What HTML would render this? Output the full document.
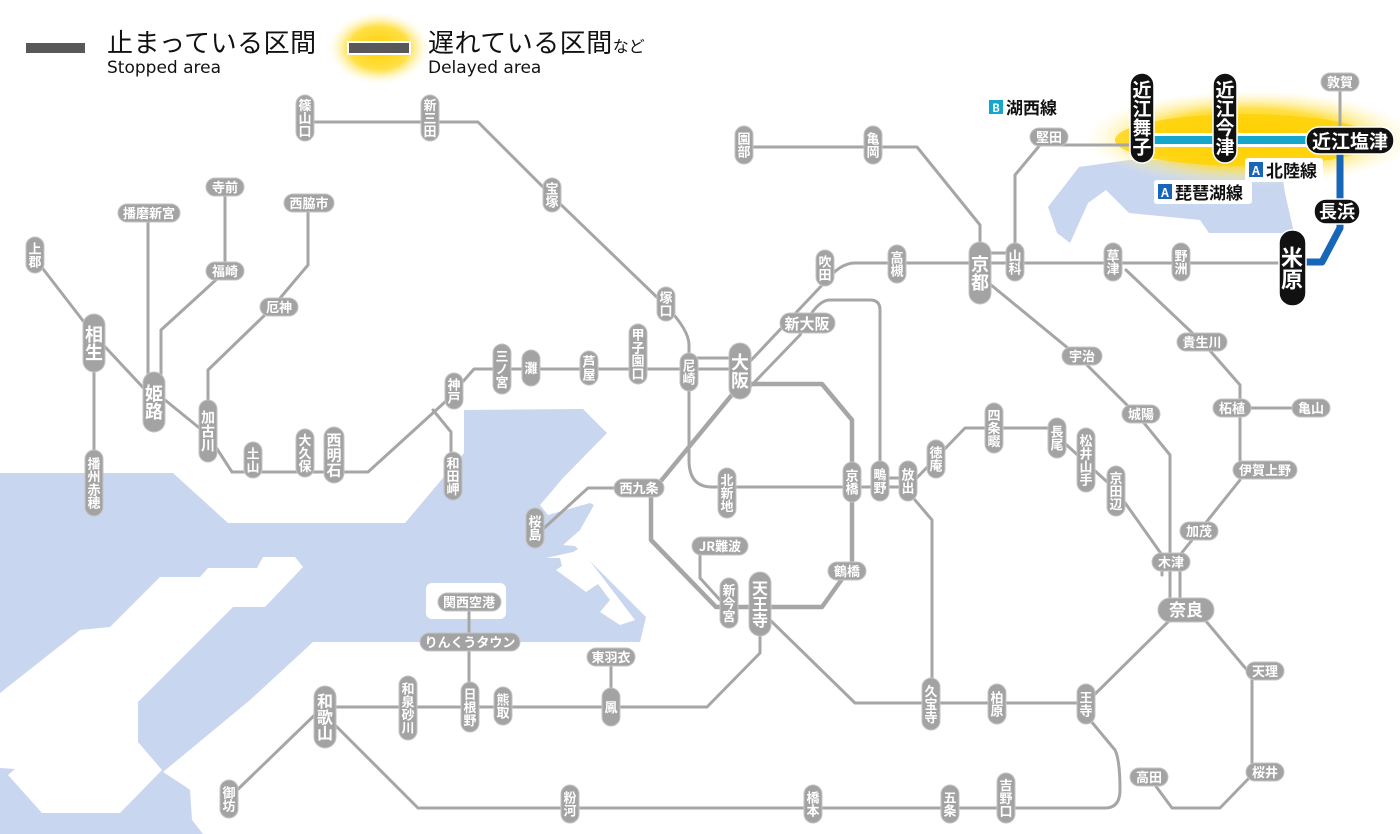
<!DOCTYPE html>
<html><head><meta charset="utf-8">
<style>
html,body{margin:0;padding:0;background:#fff;}
svg{display:block;}
.ln{fill:none;stroke:#a6a6a6;stroke-width:3;stroke-linejoin:round;stroke-linecap:round;}
.st rect{fill:#a3a3a3;stroke:#c4c4c4;stroke-width:1;}
.st text{fill:#fff;font-family:"Noto Sans CJK JP","WenQuanYi Zen Hei",sans-serif;font-weight:bold;}
.v{writing-mode:vertical-rl;text-orientation:upright;}
.bk rect{fill:#111;stroke:#fff;stroke-width:1.5;}
.bk text{fill:#fff;font-family:"Noto Sans CJK JP",sans-serif;font-weight:bold;}
</style></head><body>
<svg width="1400" height="834" viewBox="0 0 1400 834" xmlns="http://www.w3.org/2000/svg">
<defs>
<radialGradient id="glow" cx="50%" cy="50%" r="50%">
<stop offset="0" stop-color="#ffd000"/><stop offset="0.6" stop-color="#ffdc30" stop-opacity="0.9"/><stop offset="1" stop-color="#fff6c0" stop-opacity="0"/>
</radialGradient>
</defs>
<!-- water -->
<polygon fill="#c9d6ef" points="0,473 173,473 228,523 405,523 464,453 464,410 583,409 607,433 563,478 540,505 548,515 590,503 594,505 580,530 563,545 575,546 646,617 640,642 313,642 250,700 163,772 183,785 190,790 192,820 203,834 0,834"/>
<polygon fill="#fff" points="0,693 80,630 110,627 160,577 200,577 208,568 257,568 263,557 295,557 303,567 265,607 233,607 138,702 138,742 162,770 120,813 42,813 8,775 15,769 0,768"/>
<rect x="426" y="583" width="80" height="36" rx="6" fill="#fff"/>
<polygon fill="#fff" points="546,558 560,558 562,566 556,570 586,592 598,584 610,600 600,612 620,625 635,620 580,548 573,552"/>
<!-- lake -->
<path fill="#c9d6ef" d="M1048,207 L1079,167 L1129,160 L1280,160 L1285,193 L1294,233 L1209,233 L1200,220 L1129,213 L1106,190 L1088,203 L1070,243 L1057,233 Z"/>
<!-- glow -->
<ellipse cx="1250" cy="138" rx="165" ry="48" fill="url(#glow)"/>
<ellipse cx="1245" cy="140" rx="130" ry="26" fill="#ffd000" opacity="0.75"/>
<!-- legend -->
<rect x="26" y="43" width="59" height="10" fill="#58585a"/>
<text x="107" y="52" font-family="'Noto Sans CJK JP',sans-serif" font-size="26" letter-spacing="0.5" fill="#111">止まっている区間</text>
<text x="107" y="73" font-family="'DejaVu Sans',sans-serif" font-size="17" fill="#111">Stopped area</text>
<ellipse cx="379" cy="48" rx="50" ry="36" fill="url(#glow)"/>
<rect x="347" y="41" width="64" height="14" fill="#fff"/>
<rect x="349" y="43" width="60" height="10" fill="#58585a"/>
<text x="428" y="52" font-family="'Noto Sans CJK JP',sans-serif" font-size="26" letter-spacing="0.5" fill="#111">遅れている区間<tspan font-size="16" letter-spacing="0">など</tspan></text>
<text x="428" y="73" font-family="'DejaVu Sans',sans-serif" font-size="17" fill="#111">Delayed area</text>

<!-- lines -->
<g class="ln">
<path d="M305,122 H478 L552,196 L666,306 Q689,330 689,345 V460 Q689,487 712,487 H908"/>
<path d="M232,472 H368 L445,402 L474,369 H740"/>
<path d="M689,358 H740"/>
<path d="M165,400 L208,435 L232,472"/>
<path d="M40,265 L94,335 L150,395"/>
<path d="M94,360 V470"/>
<path d="M148,222 V390"/>
<path d="M161,390 V330 L218,278 M225,278 V190"/>
<path d="M208,410 V370 L270,310 L308,265 V210"/>
<path d="M433,410 L451,432 V470"/>
<path d="M740,372 L825,282 Q840,263 855,263 H1290"/>
<path d="M745,392 L800,335 Q815,300 830,300 H870 Q880,300 880,310 V480"/>
<path d="M880,478 H908"/>
<path d="M651,488 H588 L542,530"/>
<path d="M700,555 V578 L720,600"/>
<path d="M760,630 V653 L707,707 H325"/>
<path d="M768,618 L855,703 H1086 L1175,615"/>
<path d="M1090,720 L1115,750 Q1120,760 1120,790 Q1120,808 1105,808 H418 L330,720"/>
<path d="M1155,785 L1172,808 H1220 L1252,775 V676 L1205,620"/>
<path d="M469,602 V700 M611,657 V705"/>
<path d="M325,705 L232,795"/>
<path d="M908,487 L965,428 H1048 L1116,490 L1162,555 V575"/>
<path d="M915,500 L932,520 V700"/>
<path d="M985,280 L1080,358 L1140,418 L1170,455 V610 M1180,610 V555 L1240,480 V385 L1205,345 L1126,270"/>
<path d="M1240,408 H1311"/>
<path d="M744,147 H917 L980,225 V250"/>
<path d="M1015,255 V175 L1040,145 H1130"/>
<path d="M990,253 H1012"/>
<path d="M1340,90 V135"/>
</g>
<path d="M745,384 H822 L852,420 V565 L822,607 H716 L651,540 V493 L740,385" fill="none" stroke="#a6a6a6" stroke-width="4.5" stroke-linejoin="round"/>
<!-- colored lines -->
<path d="M1141,140 H1340" stroke="#fff" stroke-width="14" fill="none"/>
<path d="M1141,140 H1340" stroke="#16a6cc" stroke-width="8" fill="none"/>
<path d="M1340,140 V228 L1322,262 H1295" stroke="#1866b8" stroke-width="7" fill="none" stroke-linejoin="round"/>

<!-- line labels -->
<g font-family="'Noto Sans CJK JP',sans-serif" font-weight="bold">
<rect x="988" y="96" width="76" height="22" fill="#fff" rx="3"/>
<rect x="989" y="100" width="14" height="14" fill="#16a6cc"/><text x="996" y="112" font-size="11" fill="#fff" text-anchor="middle">B</text>
<text x="1006" y="114" font-size="17" fill="#111">湖西線</text>
<rect x="1245" y="158" width="78" height="24" fill="#fff" rx="3"/>
<rect x="1249" y="162" width="14" height="15" fill="#1866b8"/><text x="1256" y="175" font-size="12" fill="#fff" text-anchor="middle">A</text>
<text x="1266" y="177" font-size="17" fill="#111">北陸線</text>
<rect x="1154" y="180" width="98" height="24" fill="#fff" rx="3"/>
<rect x="1158" y="184" width="14" height="15" fill="#1866b8"/><text x="1165" y="197" font-size="12" fill="#fff" text-anchor="middle">A</text>
<text x="1175" y="199" font-size="17" fill="#111">琵琶湖線</text>
</g>

<!-- vertical small stations -->
<g class="st" font-size="13">
<rect x="296" y="95" width="18" height="46" rx="9"/><text class="v" x="305" y="118" text-anchor="middle" font-size="13">篠山口</text>
<rect x="421" y="95" width="18" height="46" rx="9"/><text class="v" x="430" y="118" text-anchor="middle" font-size="13">新三田</text>
<rect x="543" y="178" width="18" height="34" rx="9"/><text class="v" x="552" y="195" text-anchor="middle" font-size="13">宝塚</text>
<rect x="657" y="287" width="18" height="34" rx="9"/><text class="v" x="666" y="304" text-anchor="middle" font-size="13">塚口</text>
<rect x="680" y="353" width="18" height="38" rx="9"/><text class="v" x="689" y="372" text-anchor="middle" font-size="13">尼崎</text>
<rect x="629" y="324" width="18" height="60" rx="9"/><text class="v" x="638" y="354" text-anchor="middle" font-size="13">甲子園口</text>
<rect x="580" y="351" width="18" height="34" rx="9"/><text class="v" x="589" y="368" text-anchor="middle" font-size="13">芦屋</text>
<rect x="522" y="350" width="18" height="36" rx="9"/><text class="v" x="531" y="368" text-anchor="middle" font-size="13">灘</text>
<rect x="493" y="344" width="18" height="50" rx="9"/><text class="v" x="502" y="369" text-anchor="middle" font-size="13">三ノ宮</text>
<rect x="445" y="373" width="18" height="36" rx="9"/><text class="v" x="454" y="391" text-anchor="middle" font-size="13">神戸</text>
<rect x="444" y="452" width="18" height="48" rx="9"/><text class="v" x="453" y="476" text-anchor="middle" font-size="13">和田岬</text>
<rect x="324" y="427" width="20" height="56" rx="10"/><text class="v" x="334" y="455" text-anchor="middle" font-size="15">西明石</text>
<rect x="296" y="429" width="18" height="48" rx="9"/><text class="v" x="305" y="453" text-anchor="middle" font-size="13">大久保</text>
<rect x="244" y="442" width="18" height="36" rx="9"/><text class="v" x="253" y="460" text-anchor="middle" font-size="13">土山</text>
<rect x="199" y="400" width="18" height="62" rx="9"/><text class="v" x="208" y="431" text-anchor="middle" font-size="14">加古川</text>
<rect x="26" y="237" width="18" height="36" rx="9"/><text class="v" x="35" y="255" text-anchor="middle" font-size="13">上郡</text>
<rect x="85" y="450" width="18" height="66" rx="9"/><text class="v" x="94" y="483" text-anchor="middle" font-size="13">播州赤穂</text>
<rect x="816" y="250" width="18" height="36" rx="9"/><text class="v" x="825" y="268" text-anchor="middle" font-size="13">吹田</text>
<rect x="888" y="245" width="18" height="38" rx="9"/><text class="v" x="897" y="264" text-anchor="middle" font-size="13">高槻</text>
<rect x="1006" y="243" width="18" height="38" rx="9"/><text class="v" x="1015" y="262" text-anchor="middle" font-size="13">山科</text>
<rect x="735" y="126" width="18" height="38" rx="9"/><text class="v" x="744" y="145" text-anchor="middle" font-size="13">園部</text>
<rect x="864" y="126" width="18" height="38" rx="9"/><text class="v" x="873" y="145" text-anchor="middle" font-size="13">亀岡</text>
<rect x="1104" y="243" width="18" height="38" rx="9"/><text class="v" x="1113" y="262" text-anchor="middle" font-size="13">草津</text>
<rect x="1172" y="243" width="18" height="38" rx="9"/><text class="v" x="1181" y="262" text-anchor="middle" font-size="13">野洲</text>
<rect x="1077" y="684" width="18" height="40" rx="9"/><text class="v" x="1086" y="704" text-anchor="middle" font-size="13">王寺</text>
<rect x="988" y="684" width="18" height="40" rx="9"/><text class="v" x="997" y="704" text-anchor="middle" font-size="13">柏原</text>
<rect x="922" y="678" width="18" height="52" rx="9"/><text class="v" x="931" y="704" text-anchor="middle" font-size="13">久宝寺</text>
<rect x="997" y="773" width="18" height="50" rx="9"/><text class="v" x="1006" y="798" text-anchor="middle" font-size="13">吉野口</text>
<rect x="941" y="785" width="18" height="38" rx="9"/><text class="v" x="950" y="804" text-anchor="middle" font-size="13">五条</text>
<rect x="804" y="785" width="18" height="38" rx="9"/><text class="v" x="813" y="804" text-anchor="middle" font-size="13">橋本</text>
<rect x="561" y="785" width="18" height="38" rx="9"/><text class="v" x="570" y="804" text-anchor="middle" font-size="13">粉河</text>
<rect x="220" y="780" width="18" height="38" rx="9"/><text class="v" x="229" y="799" text-anchor="middle" font-size="13">御坊</text>
<rect x="399" y="676" width="18" height="64" rx="9"/><text class="v" x="408" y="708" text-anchor="middle" font-size="13">和泉砂川</text>
<rect x="461" y="682" width="18" height="50" rx="9"/><text class="v" x="470" y="707" text-anchor="middle" font-size="13">日根野</text>
<rect x="494" y="687" width="18" height="38" rx="9"/><text class="v" x="503" y="706" text-anchor="middle" font-size="13">熊取</text>
<rect x="602" y="688" width="18" height="38" rx="9"/><text class="v" x="611" y="707" text-anchor="middle" font-size="13">鳳</text>
<rect x="720" y="578" width="18" height="50" rx="9"/><text class="v" x="729" y="603" text-anchor="middle" font-size="13">新今宮</text>
<rect x="843" y="462" width="18" height="40" rx="9"/><text class="v" x="852" y="482" text-anchor="middle" font-size="13">京橋</text>
<rect x="871" y="461" width="18" height="40" rx="9"/><text class="v" x="880" y="481" text-anchor="middle" font-size="13">鴫野</text>
<rect x="899" y="461" width="18" height="40" rx="9"/><text class="v" x="908" y="481" text-anchor="middle" font-size="13">放出</text>
<rect x="927" y="440" width="18" height="38" rx="9"/><text class="v" x="936" y="459" text-anchor="middle" font-size="13">徳庵</text>
<rect x="985" y="403" width="18" height="50" rx="9"/><text class="v" x="994" y="428" text-anchor="middle" font-size="13">四条畷</text>
<rect x="1048" y="418" width="18" height="40" rx="9"/><text class="v" x="1057" y="438" text-anchor="middle" font-size="13">長尾</text>
<rect x="1077" y="428" width="18" height="64" rx="9"/><text class="v" x="1086" y="460" text-anchor="middle" font-size="13">松井山手</text>
<rect x="1107" y="466" width="18" height="50" rx="9"/><text class="v" x="1116" y="491" text-anchor="middle" font-size="13">京田辺</text>
<rect x="718" y="468" width="18" height="50" rx="9"/><text class="v" x="727" y="493" text-anchor="middle" font-size="13">北新地</text>
<rect x="526" y="508" width="18" height="40" rx="9"/><text class="v" x="535" y="528" text-anchor="middle" font-size="13">桜島</text>
</g>
<!-- big vertical stations -->
<g class="st">
<rect x="143" y="372" width="22" height="60" rx="11"/><text class="v" x="154" y="402" text-anchor="middle" font-size="18">姫路</text>
<rect x="83" y="314" width="22" height="58" rx="11"/><text class="v" x="94" y="343" text-anchor="middle" font-size="18">相生</text>
<rect x="729" y="343" width="22" height="56" rx="11"/><text class="v" x="740" y="371" text-anchor="middle" font-size="18">大阪</text>
<rect x="969" y="242" width="22" height="62" rx="11"/><text class="v" x="980" y="273" text-anchor="middle" font-size="18">京都</text>
<rect x="749" y="572" width="22" height="64" rx="11"/><text class="v" x="760" y="604" text-anchor="middle" font-size="16">天王寺</text>
<rect x="314" y="686" width="22" height="62" rx="11"/><text class="v" x="325" y="717" text-anchor="middle" font-size="16">和歌山</text>
</g>
<!-- horizontal stations -->
<g class="st" font-size="13">
<rect x="118" y="204" width="62" height="18" rx="9"/><text x="149" y="218" text-anchor="middle" font-size="13">播磨新宮</text>
<rect x="206" y="178" width="38" height="18" rx="9"/><text x="225" y="192" text-anchor="middle" font-size="13">寺前</text>
<rect x="206" y="262" width="38" height="18" rx="9"/><text x="225" y="276" text-anchor="middle" font-size="13">福崎</text>
<rect x="284" y="194" width="50" height="18" rx="9"/><text x="309" y="208" text-anchor="middle" font-size="13">西脇市</text>
<rect x="260" y="298" width="38" height="18" rx="9"/><text x="279" y="312" text-anchor="middle" font-size="13">厄神</text>
<rect x="780" y="313" width="55" height="20" rx="10"/><text x="807" y="329" text-anchor="middle" font-size="15">新大阪</text>
<rect x="1030" y="128" width="38" height="18" rx="9"/><text x="1049" y="142" text-anchor="middle" font-size="13">堅田</text>
<rect x="1321" y="73" width="38" height="18" rx="9"/><text x="1340" y="87" text-anchor="middle" font-size="13">敦賀</text>
<rect x="1062" y="347" width="40" height="18" rx="9"/><text x="1082" y="361" text-anchor="middle" font-size="13">宇治</text>
<rect x="1177" y="333" width="50" height="18" rx="9"/><text x="1202" y="347" text-anchor="middle" font-size="13">貴生川</text>
<rect x="1122" y="405" width="38" height="18" rx="9"/><text x="1141" y="419" text-anchor="middle" font-size="13">城陽</text>
<rect x="1213" y="399" width="38" height="18" rx="9"/><text x="1232" y="413" text-anchor="middle" font-size="13">柘植</text>
<rect x="1292" y="399" width="38" height="18" rx="9"/><text x="1311" y="413" text-anchor="middle" font-size="13">亀山</text>
<rect x="1233" y="461" width="64" height="18" rx="9"/><text x="1265" y="475" text-anchor="middle" font-size="13">伊賀上野</text>
<rect x="1180" y="522" width="38" height="18" rx="9"/><text x="1199" y="536" text-anchor="middle" font-size="13">加茂</text>
<rect x="1152" y="553" width="38" height="18" rx="9"/><text x="1171" y="567" text-anchor="middle" font-size="13">木津</text>
<rect x="1246" y="662" width="38" height="18" rx="9"/><text x="1265" y="676" text-anchor="middle" font-size="13">天理</text>
<rect x="1246" y="763" width="38" height="18" rx="9"/><text x="1265" y="777" text-anchor="middle" font-size="13">桜井</text>
<rect x="1130" y="768" width="38" height="18" rx="9"/><text x="1149" y="782" text-anchor="middle" font-size="13">高田</text>
<rect x="587" y="648" width="48" height="18" rx="9"/><text x="611" y="662" text-anchor="middle" font-size="13">東羽衣</text>
<rect x="420" y="633" width="100" height="18" rx="9"/><text x="470" y="647" text-anchor="middle" font-size="13">りんくうタウン</text>
<rect x="438" y="593" width="63" height="18" rx="9"/><text x="469" y="607" text-anchor="middle" font-size="13">関西空港</text>
<rect x="692" y="537" width="56" height="18" rx="9"/><text x="720" y="551" text-anchor="middle" font-size="13">JR難波</text>
<rect x="828" y="562" width="38" height="18" rx="9"/><text x="847" y="576" text-anchor="middle" font-size="13">鶴橋</text>
<rect x="614" y="479" width="50" height="18" rx="9"/><text x="639" y="493" text-anchor="middle" font-size="13">西九条</text>
<rect x="1158" y="598" width="56" height="24" rx="12"/><text x="1186" y="616" text-anchor="middle" font-size="17">奈良</text>
</g>
<!-- black stations -->
<g class="bk">
<rect x="1130" y="73" width="24" height="90" rx="12"/><text class="v" x="1142" y="118" text-anchor="middle" font-size="19">近江舞子</text>
<rect x="1213" y="73" width="24" height="90" rx="12"/><text class="v" x="1225" y="118" text-anchor="middle" font-size="19">近江今津</text>
<rect x="1306" y="127" width="88" height="27" rx="13"/><text x="1350" y="148" text-anchor="middle" font-size="19">近江塩津</text>
<rect x="1314" y="199" width="46" height="25" rx="12"/><text x="1337" y="218" text-anchor="middle" font-size="18">長浜</text>
<rect x="1279" y="230" width="27" height="76" rx="13"/><text class="v" x="1292" y="268" text-anchor="middle" font-size="22">米原</text>
</g>
</svg>
</body></html>
